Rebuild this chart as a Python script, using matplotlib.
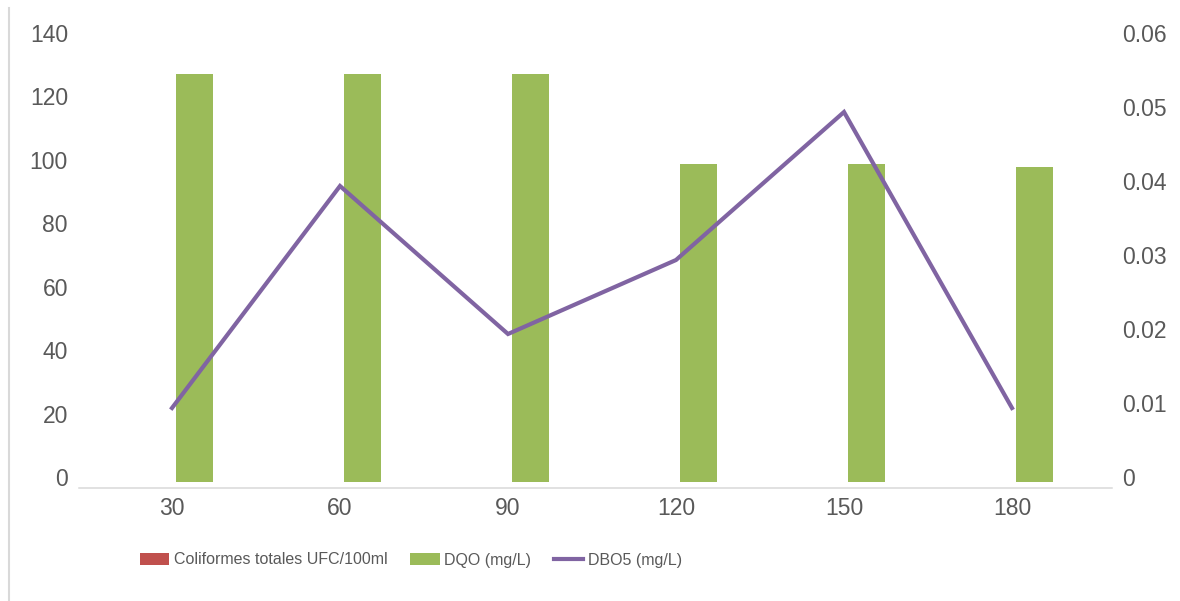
import matplotlib.pyplot as plt
from matplotlib.lines import Line2D
from matplotlib.transforms import ScaledTranslation

# Coliformes / DQO / DBO5 por tiempo (min)
tiempos = ["30", "60", "90", "120", "150", "180"]
coliformes = [0, 0, 0, 0, 0, 0]
dqo = [128.8, 128.5, 128.5, 100.3, 100.2, 99.4]
dbo5 = [0.010, 0.040, 0.020, 0.030, 0.050, 0.010]

plt.rcParams["font.family"] = ["Liberation Sans", "DejaVu Sans"]
gris = "#595959"

fig = plt.figure(figsize=(11.8, 6.01), dpi=100)
ax = fig.add_axes([79 / 1180, 1 - 482 / 601, 1033 / 1180, 444 / 601])
ax2 = ax.twinx()

x = list(range(len(tiempos)))
w = 0.222
off = 0.135
ax.bar([i - off for i in x], coliformes, width=w, color="#C0504D",
       linewidth=0, label="Coliformes totales UFC/100ml")
ax.bar([i + off for i in x], dqo, width=w, color="#9BBB59",
       linewidth=0, label="DQO (mg/L)")
ax2.plot(x, dbo5, color="#8064A2", lw=3, solid_joinstyle="miter",
         label="DBO5 (mg/L)")

ax.set_xlim(-0.5 - 9 / 168, 5.5 + 16 / 168)
ax.set_ylim(0, 140)
ax.set_yticks(range(0, 141, 20))
ax2.set_ylim(0, 0.06)
ax2.set_yticks([0, 0.01, 0.02, 0.03, 0.04, 0.05, 0.06])
ax2.set_yticklabels(["0", "0.01", "0.02", "0.03", "0.04", "0.05", "0.06"])
ax.set_xticks(x)
ax.set_xticklabels(tiempos)

for a in (ax, ax2):
    for s in a.spines.values():
        s.set_visible(False)
ax.spines["bottom"].set_visible(True)
ax.spines["bottom"].set_color("#d9d9d9")
ax.spines["bottom"].set_linewidth(1.1)
ax.spines["bottom"].set_position(("outward", 4))

ax.tick_params(axis="y", length=0, pad=8, labelsize=16.5, labelcolor=gris)
ax.tick_params(axis="x", length=0, pad=7, labelsize=16.5, labelcolor=gris)
ax2.tick_params(axis="y", length=0, pad=7, labelsize=16.5, labelcolor=gris)

# Excel draws the value labels a few pixels above the gridline position
up = ScaledTranslation(0, 5 / 100, fig.dpi_scale_trans)
for lab in ax.get_yticklabels() + ax2.get_yticklabels():
    lab.set_transform(lab.get_transform() + up)

# left border of the chart box
fig.add_artist(Line2D([9 / 1180, 9 / 1180], [0, 1 - 8 / 601],
                      color="#d9d9d9", lw=1.5))

h1, l1 = ax.get_legend_handles_labels()
h2, l2 = ax2.get_legend_handles_labels()
leg = fig.legend(h1 + h2, l1 + l2, loc="center", ncol=3, frameon=False,
                 bbox_to_anchor=(411 / 1180, 1 - 560 / 601),
                 fontsize=11.5, handlelength=1.85, handleheight=0.8,
                 handletextpad=0.3, columnspacing=1.4)
for t in leg.get_texts():
    t.set_color(gris)

fig.savefig("out.png", dpi=100)
